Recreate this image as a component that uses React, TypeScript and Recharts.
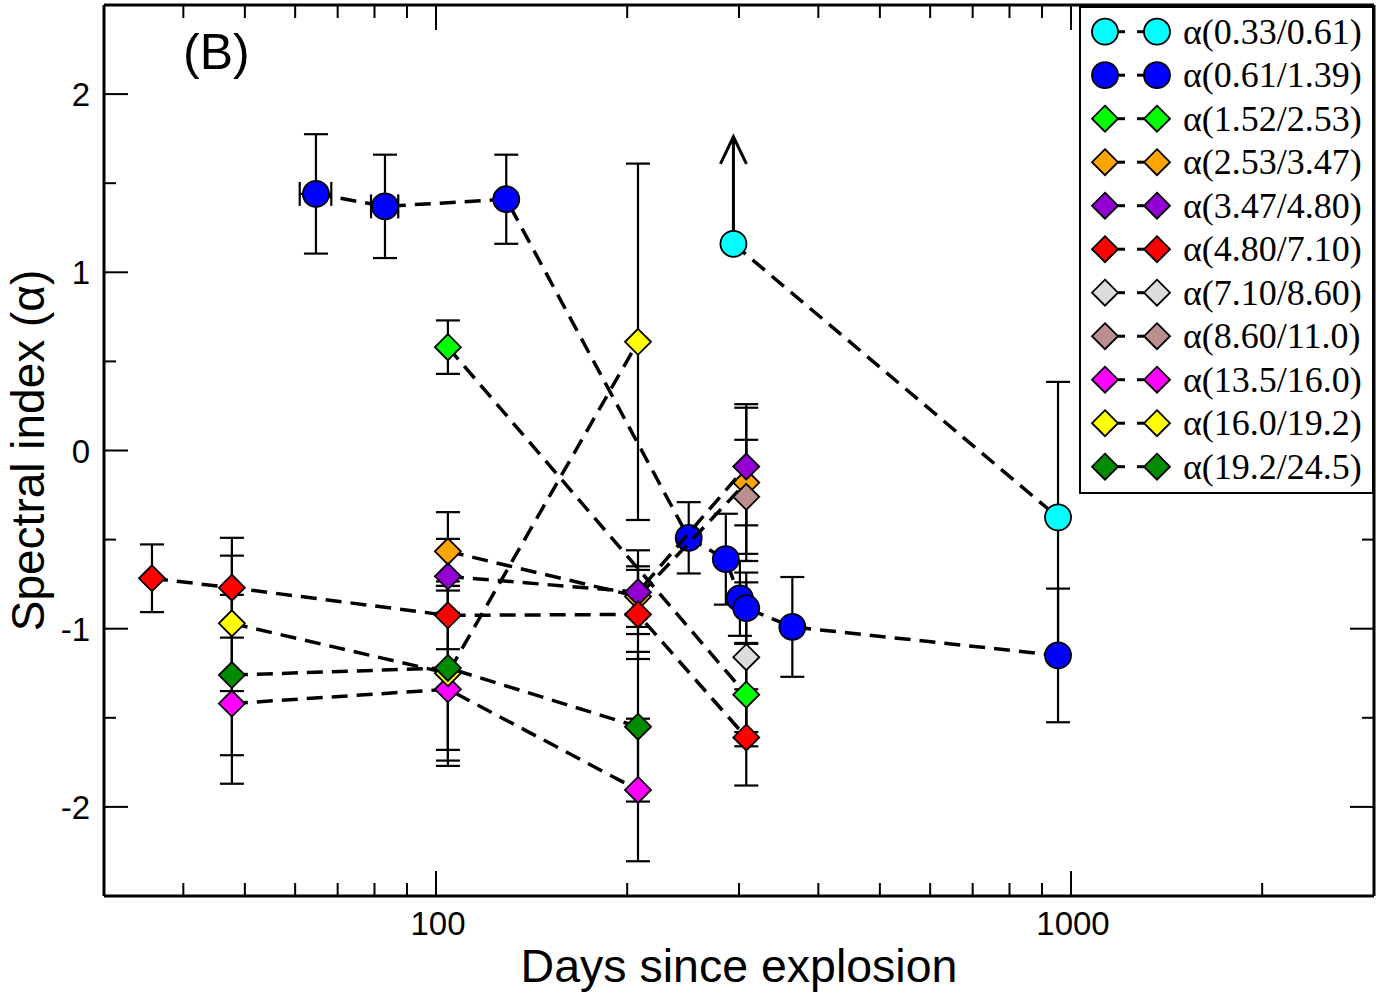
import { ErrorBar, Scatter, ScatterChart, XAxis, YAxis } from "recharts";

const xTicks = [40, 50, 60, 70, 80, 90, 100, 200, 300, 400, 500, 600, 700, 800, 900, 1000, 2000];
const xMajor = [100, 1000];
const yTicks = [-2, -1.5, -1, -0.5, 0, 0.5, 1, 1.5, 2];

// α(0.33/0.61)  (first point is a lower limit)
const cyanDays = [294, 954];
const cyanAlpha = [1.16, -0.375];
const cyanErr = [0, 0.76];
const cyanLimit = [true, false];

// α(0.61/1.39)
const blueDays = [64.7, 83.1, 129, 250, 286, 301, 308, 364, 954];
const blueAlpha = [1.44, 1.37, 1.41, -0.49, -0.61, -0.83, -0.885, -0.99, -1.15];
const blueErr = [0.335, 0.29, 0.25, 0.2, 0.255, 0.21, 0.2, 0.28, 0.375];
const blueDayErr = [3.7, 4.1, 0, 0, 0, 0, 0, 0, 0];

// α(1.52/2.53)
const greenDays = [104.4, 308];
const greenAlpha = [0.58, -1.37];
const greenErr = [0.15, 0.29];

// α(2.53/3.47)
const orangeDays = [104.4, 208, 308];
const orangeAlpha = [-0.566, -0.82, -0.18];
const orangeErr = [0.22, 0.17, 0.44];

// α(3.47/4.80)
const purpleDays = [104.4, 208, 308];
const purpleAlpha = [-0.706, -0.795, -0.09];
const purpleErr = [0.21, 0.235, 0.33];

// α(4.80/7.10)
const redDays = [35.7, 47.7, 104.4, 208, 308];
const redAlpha = [-0.717, -0.77, -0.925, -0.92, -1.61];
const redErr = [0.19, 0.28, 0.19, 0.25, 0.27];

// α(7.10/8.60)
const grayDays = [308];
const grayAlpha = [-1.16];
const grayErr = [0.42];

// α(8.60/11.0)
const brownDays = [308];
const brownAlpha = [-0.26];
const brownErr = [0.32];

// α(13.5/16.0)
const magentaDays = [47.7, 104.4, 208];
const magentaAlpha = [-1.42, -1.34, -1.905];
const magentaErr = [0.45, 0.43, 0.4];

// α(16.0/19.2)
const yellowDays = [47.7, 104.4, 208];
const yellowAlpha = [-0.97, -1.25, 0.61];
const yellowErr = [0.38, 0.49, 1.0];

// α(19.2/24.5)
const dkgreenDays = [47.7, 104.4, 208];
const dkgreenAlpha = [-1.26, -1.22, -1.55];
const dkgreenErr = [0.45, 0.46, 0.42];

type Kind = "circle" | "diamond";
type Series = {
  name: string;
  color: string;
  kind: Kind;
  days: number[];
  alpha: number[];
  err: number[];
  dayErr?: number[];
  limit?: boolean[];
};

const series: Series[] = [
  { name: "α(0.33/0.61)", color: "#00ffff", kind: "circle", days: cyanDays, alpha: cyanAlpha, err: cyanErr, limit: cyanLimit },
  { name: "α(0.61/1.39)", color: "#0000ff", kind: "circle", days: blueDays, alpha: blueAlpha, err: blueErr, dayErr: blueDayErr },
  { name: "α(1.52/2.53)", color: "#00ff00", kind: "diamond", days: greenDays, alpha: greenAlpha, err: greenErr },
  { name: "α(2.53/3.47)", color: "#ffa500", kind: "diamond", days: orangeDays, alpha: orangeAlpha, err: orangeErr },
  { name: "α(3.47/4.80)", color: "#9400d3", kind: "diamond", days: purpleDays, alpha: purpleAlpha, err: purpleErr },
  { name: "α(4.80/7.10)", color: "#ff0000", kind: "diamond", days: redDays, alpha: redAlpha, err: redErr },
  { name: "α(7.10/8.60)", color: "#dcdcdc", kind: "diamond", days: grayDays, alpha: grayAlpha, err: grayErr },
  { name: "α(8.60/11.0)", color: "#bc8f8f", kind: "diamond", days: brownDays, alpha: brownAlpha, err: brownErr },
  { name: "α(13.5/16.0)", color: "#ff00ff", kind: "diamond", days: magentaDays, alpha: magentaAlpha, err: magentaErr },
  { name: "α(16.0/19.2)", color: "#ffff00", kind: "diamond", days: yellowDays, alpha: yellowAlpha, err: yellowErr },
  { name: "α(19.2/24.5)", color: "#008b00", kind: "diamond", days: dkgreenDays, alpha: dkgreenAlpha, err: dkgreenErr },
];

const SANS = "'Liberation Sans', Arial, Helvetica, sans-serif";
const SERIF = "'Liberation Serif', 'Times New Roman', serif";

function Marker({ cx, cy, color, kind, limit, r = 13 }: any) {
  if (cx == null || cy == null) return null;
  if (kind === "circle") {
    return (
      <g>
        {limit && (
          <g stroke="#000" strokeWidth={3} fill="none">
            <line x1={cx} y1={cy - r} x2={cx} y2={cy - 107} />
            <polyline points={`${cx - 13},${cy - 80} ${cx},${cy - 107} ${cx + 13},${cy - 80}`} />
          </g>
        )}
        <circle cx={cx} cy={cy} r={r} fill={color} stroke="#000" strokeWidth={1.8} />
      </g>
    );
  }
  return (
    <polygon
      points={`${cx},${cy - r} ${cx + r},${cy} ${cx},${cy + r} ${cx - r},${cy}`}
      fill={color}
      stroke="#000"
      strokeWidth={1.8}
    />
  );
}

function BottomTick({ x, y, payload }: any) {
  const major = xMajor.includes(payload.value);
  return (
    <g>
      <line x1={x} y1={y} x2={x} y2={y - (major ? 25 : 13)} stroke="#000" strokeWidth={2} />
      {major && (
        <text x={x + 2} y={y + 39} textAnchor="middle" fontSize={33} fontFamily={SANS} fill="#000">
          {payload.value}
        </text>
      )}
    </g>
  );
}

function TopTick({ x, y, payload }: any) {
  const major = xMajor.includes(payload.value);
  return <line x1={x} y1={y} x2={x} y2={y + (major ? 25 : 13)} stroke="#000" strokeWidth={2} />;
}

function LeftTick({ x, y, payload }: any) {
  const major = Number.isInteger(payload.value);
  return (
    <g>
      <line x1={x} y1={y} x2={x + (major ? 24 : 12)} y2={y} stroke="#000" strokeWidth={2} />
      {major && (
        <text x={x - 14} y={y + 12} textAnchor="end" fontSize={33} fontFamily={SANS} fill="#000">
          {payload.value}
        </text>
      )}
    </g>
  );
}

function RightTick({ x, y, payload }: any) {
  const major = Number.isInteger(payload.value);
  return <line x1={x} y1={y} x2={x - (major ? 24 : 12)} y2={y} stroke="#000" strokeWidth={2} />;
}

function LegendBox() {
  return (
    <div
      style={{
        position: "absolute",
        left: 1079,
        top: 6,
        width: 295,
        height: 488,
        boxSizing: "border-box",
        border: "2px solid #000",
        background: "#fff",
      }}
    >
      <svg width={291} height={484}>
        {series.map((s, i) => {
          const cy = 23.7 + i * 43.5;
          return (
            <g key={s.name}>
              <line x1={37} y1={cy} x2={44} y2={cy} stroke="#000" strokeWidth={3} />
              <line x1={56} y1={cy} x2={63} y2={cy} stroke="#000" strokeWidth={3} />
              <Marker cx={24} cy={cy} color={s.color} kind={s.kind} r={13} />
              <Marker cx={76} cy={cy} color={s.color} kind={s.kind} r={13} />
              <text x={102} y={cy + 12} fontSize={36} fontFamily={SERIF} fill="#000">
                {s.name}
              </text>
            </g>
          );
        })}
      </svg>
    </div>
  );
}

const axisLine = { stroke: "#000", strokeWidth: 3 };

export default function App() {
  return (
    <div style={{ position: "absolute", left: 0, top: 0, width: 1384, height: 996, background: "#fff" }}>
      <ScatterChart width={1384} height={996} margin={{ top: 4, right: 9, bottom: 99, left: 103 }}>
        <XAxis
          xAxisId="bottom"
          dataKey="day"
          type="number"
          scale="log"
          domain={[30, 3000]}
          allowDataOverflow
          ticks={xTicks}
          interval={0}
          height={1}
          tickSize={0}
          tickMargin={0}
          tickLine={false}
          tick={<BottomTick />}
          axisLine={axisLine}
          label={{
            value: "Days since explosion",
            position: "bottom",
            offset: 52,
            style: { fontSize: 46.5, fontFamily: SANS, fill: "#000" },
          }}
        />
        <XAxis
          xAxisId="top"
          orientation="top"
          dataKey="day"
          type="number"
          scale="log"
          domain={[30, 3000]}
          allowDataOverflow
          ticks={xTicks}
          interval={0}
          height={1}
          tickSize={0}
          tickMargin={0}
          tickLine={false}
          tick={<TopTick />}
          axisLine={axisLine}
        />
        <YAxis
          yAxisId="left"
          dataKey="alpha"
          type="number"
          domain={[-2.5, 2.5]}
          allowDataOverflow
          ticks={yTicks}
          interval={0}
          width={1}
          tickSize={0}
          tickMargin={0}
          tickLine={false}
          tick={<LeftTick />}
          axisLine={axisLine}
          label={{
            value: "Spectral index (α)",
            angle: -90,
            position: "left",
            offset: 75,
            style: { fontSize: 46, fontFamily: SANS, fill: "#000", textAnchor: "middle" },
          }}
        />
        <YAxis
          yAxisId="right"
          orientation="right"
          dataKey="alpha"
          type="number"
          domain={[-2.5, 2.5]}
          allowDataOverflow
          ticks={yTicks}
          interval={0}
          width={1}
          tickSize={0}
          tickMargin={0}
          tickLine={false}
          tick={<RightTick />}
          axisLine={axisLine}
        />
        {series.map((s) => {
          const data = s.days.map((d, i) => ({
            day: d,
            alpha: s.alpha[i],
            err: s.err[i],
            dayErr: s.dayErr ? s.dayErr[i] : 0,
            limit: s.limit ? s.limit[i] : false,
          }));
          return (
            <Scatter
              key={s.name}
              name={s.name}
              data={data}
              xAxisId="bottom"
              yAxisId="left"
              fill={s.color}
              isAnimationActive={false}
              line={{ stroke: "#000", strokeWidth: 3.5, strokeDasharray: "16 9" }}
              lineType="joint"
              shape={(p: any) => (
                <Marker cx={p.cx} cy={p.cy} color={s.color} kind={s.kind} limit={p.payload?.limit} />
              )}
            >
              <ErrorBar dataKey="err" direction="y" width={12} stroke="#000" strokeWidth={2.2} />
              {s.dayErr && <ErrorBar dataKey="dayErr" direction="x" width={12} stroke="#000" strokeWidth={2.2} />}
            </Scatter>
          );
        })}
      </ScatterChart>
      <div
        style={{
          position: "absolute",
          left: 183,
          top: 22,
          fontSize: 50,
          fontFamily: SANS,
          lineHeight: "60px",
          color: "#000",
        }}
      >
        (B)
      </div>
      <LegendBox />
    </div>
  );
}
